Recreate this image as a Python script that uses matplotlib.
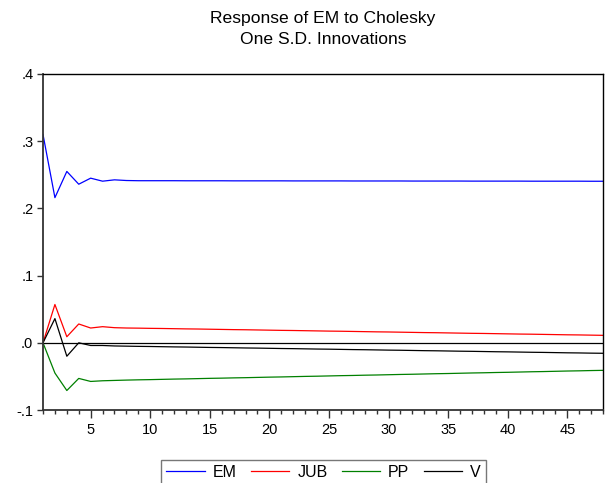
import numpy as np
import matplotlib.pyplot as plt
from matplotlib.ticker import FuncFormatter, MultipleLocator

plt.rcParams['font.family'] = ['Liberation Sans', 'DejaVu Sans']

periods = np.arange(1, 49)

em = [0.310, 0.216, 0.255, 0.236, 0.245, 0.2405, 0.2425, 0.2415, 0.2412, 0.2412,
      0.2412, 0.2412, 0.2411, 0.2411, 0.2411, 0.2411, 0.2410, 0.2410, 0.2410, 0.2410,
      0.2410, 0.2409, 0.2409, 0.2409, 0.2409, 0.2409, 0.2408, 0.2408, 0.2408, 0.2408,
      0.2408, 0.2407, 0.2407, 0.2407, 0.2407, 0.2407, 0.2406, 0.2406, 0.2406, 0.2406,
      0.2406, 0.2405, 0.2405, 0.2405, 0.2405, 0.2405, 0.2404, 0.2404]

jub = [0.0, 0.057, 0.009, 0.028, 0.022, 0.024, 0.0225,
       0.0220, 0.0218, 0.0215, 0.0213, 0.0210, 0.0207, 0.0205, 0.0202, 0.0199, 0.0196,
       0.0194, 0.0191, 0.0188, 0.0185, 0.0183, 0.0180, 0.0177, 0.0174, 0.0172, 0.0169,
       0.0166, 0.0163, 0.0161, 0.0158, 0.0155, 0.0152, 0.0150, 0.0147, 0.0144, 0.0141,
       0.0139, 0.0136, 0.0133, 0.0130, 0.0128, 0.0125, 0.0122, 0.0119, 0.0117, 0.0114,
       0.0111]

pp = [0.0, -0.045, -0.071, -0.053, -0.0575, -0.0565, -0.0560,
      -0.0555, -0.0551, -0.0548, -0.0544, -0.0540, -0.0537, -0.0533, -0.0529, -0.0526, -0.0522,
      -0.0519, -0.0515, -0.0511, -0.0508, -0.0504, -0.0500, -0.0497, -0.0493, -0.0489, -0.0486,
      -0.0482, -0.0479, -0.0475, -0.0471, -0.0468, -0.0464, -0.0460, -0.0457, -0.0453, -0.0449,
      -0.0446, -0.0442, -0.0439, -0.0435, -0.0431, -0.0428, -0.0424, -0.0420, -0.0417, -0.0413,
      -0.0410]

v = [0.0, 0.036, -0.020, 0.000, -0.004, -0.004, -0.0047,
     -0.0050, -0.0053, -0.0055, -0.0058, -0.0061, -0.0063, -0.0066, -0.0069, -0.0071, -0.0074,
     -0.0077, -0.0079, -0.0082, -0.0085, -0.0087, -0.0090, -0.0093, -0.0095, -0.0098, -0.0101,
     -0.0103, -0.0106, -0.0109, -0.0111, -0.0114, -0.0117, -0.0119, -0.0122, -0.0125, -0.0127,
     -0.0130, -0.0133, -0.0135, -0.0138, -0.0141, -0.0143, -0.0146, -0.0149, -0.0151, -0.0154,
     -0.0156]

series = [("EM", em, "#0000ff"), ("JUB", jub, "#ff0000"),
          ("PP", pp, "#008000"), ("V", v, "#000000")]

fig = plt.figure(figsize=(6.15, 4.83), dpi=100)
ax = fig.add_axes([43 / 615, 1 - 410 / 483, 560 / 615, 336 / 483])

ax.axhline(0, color='black', lw=0.9, zorder=1)
for name, vals, col in series:
    ax.plot(periods, vals, color=col, lw=0.9, label=name, zorder=2)

ax.set_xlim(1, 48)
ax.set_ylim(-0.1, 0.4)
ax.xaxis.set_major_locator(MultipleLocator(5))
ax.xaxis.set_minor_locator(MultipleLocator(1))
ax.yaxis.set_major_locator(MultipleLocator(0.1))


def strip_zero(val, pos):
    s = f"{val:.1f}"
    return s.replace("0.", ".")


ax.yaxis.set_major_formatter(FuncFormatter(strip_zero))
ax.tick_params(axis='x', which='major', direction='out', length=6, width=1,
               labelsize=10.5, pad=3, colors='#333333', labelcolor='black')
ax.tick_params(axis='x', which='minor', direction='out', length=3, width=1, colors='#333333')
ax.tick_params(axis='y', which='major', direction='out', length=4, width=1,
               labelsize=10.5, pad=3, colors='#333333', labelcolor='black')
for side in ['left', 'bottom']:
    ax.spines[side].set_color('#333333')
    ax.spines[side].set_linewidth(1.3)
for side in ['top', 'right']:
    ax.spines[side].set_color('black')
    ax.spines[side].set_linewidth(1.0)

fig.text(323 / 615, 1 - 19 / 483, "Response of EM to Cholesky",
         ha='center', va='center', fontsize=12.6)
fig.text(323 / 615, 1 - 39 / 483, "One S.D. Innovations",
         ha='center', va='center', fontsize=12.6)

leg = fig.legend(loc='upper center', bbox_to_anchor=(323.5 / 615, 1 - 460 / 483),
                 ncol=4, fontsize=11.5, frameon=True, fancybox=False,
                 handlelength=2.4, columnspacing=0.9, handletextpad=0.5,
                 borderpad=0.3, borderaxespad=0)
leg.get_frame().set_edgecolor('#555555')
leg.get_frame().set_linewidth(1.0)

fig.savefig("out.png", dpi=100)
